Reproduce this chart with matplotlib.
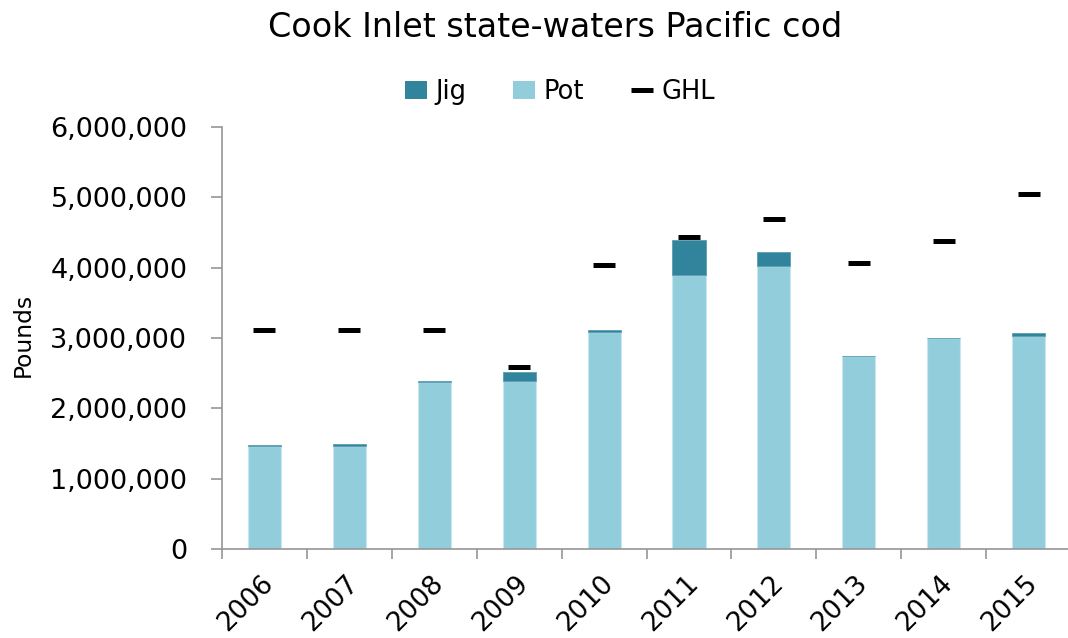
import matplotlib
matplotlib.use("Agg")
import matplotlib.pyplot as plt
import matplotlib.transforms as mtransforms
from matplotlib.ticker import FuncFormatter, FixedLocator
from matplotlib.patches import Patch
from matplotlib.lines import Line2D
import numpy as np

# Cook Inlet state-waters Pacific cod harvest (pounds)
years = ["2006", "2007", "2008", "2009", "2010", "2011", "2012", "2013", "2014", "2015"]
pot = [1460000, 1470000, 2370000, 2390000, 3080000, 3900000, 4030000, 2750000, 3000000, 3030000]
jig = [20000, 25000, 20000, 130000, 40000, 490000, 190000, 0, 0, 35000]
ghl = [3110000, 3110000, 3110000, 2590000, 4040000, 4440000, 4690000, 4060000, 4380000, 5050000]

POT_COL = '#92CDDC'
JIG_COL = '#31849B'
AXIS_COL = '#969696'

plt.rcParams['font.family'] = ['DejaVu Sans']

fig = plt.figure(figsize=(10.68, 6.38), dpi=100)
ax = fig.add_axes([0.2079, 0.1395, 0.795, 0.6614])

x = np.arange(len(years))
w = 0.39
ax.bar(x, pot, w, color=POT_COL, edgecolor='#c9e6ee', linewidth=0.8)
ax.bar(x, jig, w, bottom=pot, color=JIG_COL, edgecolor='#5a9fb2', linewidth=0.6)
ax.plot(x, ghl, linestyle='none', marker='_', markersize=16.5, markeredgewidth=3.6,
        color='black')

ax.set_xlim(-0.5, len(years) - 0.5)
ax.set_ylim(0, 6000000)
ax.set_yticks(np.arange(0, 6000001, 1000000))
ax.yaxis.set_major_formatter(FuncFormatter(lambda v, p: f"{int(v):,}"))

# year labels at bar centres, tick marks between categories (Excel style)
ax.set_xticks(x)
ax.set_xticklabels(years, rotation=45, ha='right', va='top', rotation_mode='anchor')
ax.xaxis.set_minor_locator(FixedLocator(np.arange(-0.5, len(years), 1.0)))
ax.tick_params(axis='x', which='major', length=0, pad=15.5, labelsize=19)
ax.tick_params(axis='x', which='minor', length=7, width=1.2, color=AXIS_COL)
ax.tick_params(axis='y', length=8, width=1.2, color=AXIS_COL, labelsize=19.5, pad=17)
shift = mtransforms.ScaledTranslation(-4 / 100, 0, fig.dpi_scale_trans)
for lab in ax.get_xticklabels():
    lab.set_transform(lab.get_transform() + shift)

for s in ['top', 'right']:
    ax.spines[s].set_visible(False)
for s in ['left', 'bottom']:
    ax.spines[s].set_color(AXIS_COL)
    ax.spines[s].set_linewidth(1.2)

fig.text(23 / 1068, 1 - 335 / 638, "Pounds", rotation=90, ha='center', va='center',
         fontsize=16.8)

handles = [Patch(facecolor=JIG_COL, label='Jig'),
           Patch(facecolor=POT_COL, label='Pot'),
           Line2D([], [], linestyle='none', marker='_', markersize=16.5,
                  markeredgewidth=3.6, color='black', label='GHL')]
fig.legend(handles=handles, loc='center', bbox_to_anchor=(560 / 1068, 1 - 92 / 638),
           ncol=3, frameon=False, fontsize=18.5, handlelength=0.86, handleheight=0.7,
           columnspacing=1.8, handletextpad=0.35, borderpad=0, borderaxespad=0)

fig.text(555 / 1068, 1 - 37 / 638, "Cook Inlet state-waters Pacific cod",
         ha='center', va='baseline', fontsize=24)

fig.savefig("out.png", dpi=100)
